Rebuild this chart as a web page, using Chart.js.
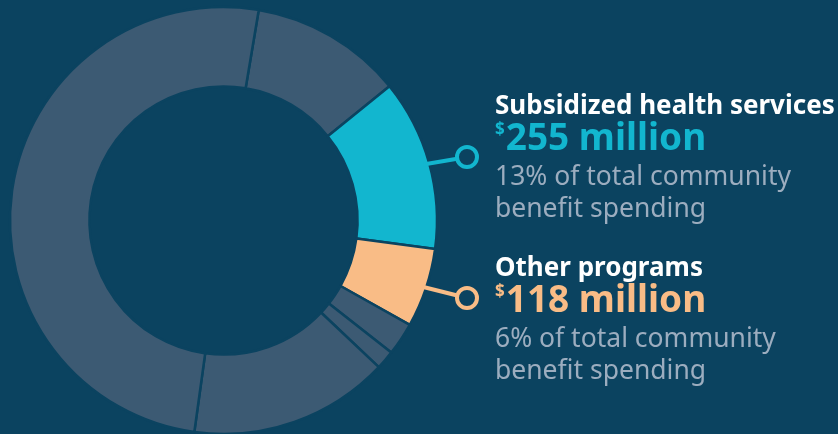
<!DOCTYPE html>
<html>
<head>
<meta charset="utf-8">
<script src="https://cdn.jsdelivr.net/npm/chart.js@4"></script>
<style>
    html, body { margin: 0; padding: 0; background: #0b4360; }
    #wrap { position: relative; width: 838px; height: 434px; overflow: hidden; font-family: "Noto Sans", sans-serif; }
    #spendChart { position: absolute; left: 0; top: 0; }
    .label { position: absolute; left: 495px; white-space: nowrap; }
    .title { color: #ffffff; font-weight: 700; font-size: 26px; line-height: 28px; }
    .amount { font-weight: 700; font-size: 37px; line-height: 36px; }
    .amount sup { font-size: 17px; vertical-align: 0; position: relative; top: -15px; margin-right: 1px; }
    .desc { color: #9cadbf; font-size: 26.5px; line-height: 32px; margin-top: -3px; }
</style>
</head>
<body>
<div id="wrap">
    <canvas id="spendChart" width="838" height="434"></canvas>
    <div class="label" id="lbl0" style="top:90px"></div>
    <div class="label" id="lbl1" style="top:252px"></div>
</div>
<script>
// Community benefit spending, $ millions (clockwise from the top)
const segments = ['Segment A', 'Subsidized health services', 'Other programs', 'Segment D', 'Segment E', 'Segment F', 'Segment G'];
const amounts = [227, 255, 118, 49, 28, 298, 993];
const segColors = ['#3c5a73', '#12b6cf', '#f9bc86', '#3c5a73', '#3c5a73', '#3c5a73', '#3c5a73'];

// Callouts
const calloutIndex = [1, 2];
const calloutTitles = ['Subsidized health services', 'Other programs'];
const calloutAmounts = ['255 million', '118 million'];
const calloutShares = ['13%', '6%'];
const calloutColors = ['#12b6cf', '#f9bc86'];

const BG = '#0b4360';

function fillLabels() {
    calloutTitles.forEach((title, i) => {
        document.getElementById('lbl' + i).innerHTML = `
            <div class="title">${title}</div>
            <div class="amount" style="color:${calloutColors[i]}"><sup>$</sup>${calloutAmounts[i]}</div>
            <div class="desc">${calloutShares[i]} of total community<br>benefit spending</div>
        `;
    });
}

// leader line + ring from the arc edge to the label
const leaderPlugin = {
    id: 'leaders',
    afterDatasetsDraw(chart) {
        const ctx = chart.ctx;
        const meta = chart.getDatasetMeta(0);
        const ringX = 467;
        const ringY = [157, 298];
        calloutIndex.forEach((idx, i) => {
            const arc = meta.data[idx];
            const mid = (arc.startAngle + arc.endAngle) / 2;
            const sx = arc.x + Math.cos(mid) * (arc.outerRadius - 6);
            const sy = arc.y + Math.sin(mid) * (arc.outerRadius - 6);
            const r = 10;
            const ang = Math.atan2(ringY[i] - sy, ringX - sx);
            ctx.save();
            ctx.strokeStyle = calloutColors[i];
            ctx.lineWidth = 4;
            ctx.beginPath();
            ctx.moveTo(sx, sy);
            ctx.lineTo(ringX - Math.cos(ang) * r, ringY[i] - Math.sin(ang) * r);
            ctx.stroke();
            ctx.beginPath();
            ctx.arc(ringX, ringY[i], r, 0, Math.PI * 2);
            ctx.fillStyle = BG;
            ctx.fill();
            ctx.stroke();
            ctx.restore();
        });
    }
};

fillLabels();

new Chart(document.getElementById('spendChart'), {
    type: 'doughnut',
    data: {
        labels: segments,
        datasets: [{
            data: amounts,
            backgroundColor: segColors,
            borderColor: BG,
            borderWidth: 2.5,
            hoverOffset: 0
        }]
    },
    options: {
        responsive: false,
        animation: false,
        rotation: 9.5,
        cutout: '62.8%',
        radius: 213.5,
        layout: { padding: { left: 0, right: 391, top: 7, bottom: 0 } },
        plugins: {
            legend: { display: false },
            tooltip: { enabled: false }
        }
    },
    plugins: [leaderPlugin]
});
</script>
</body>
</html>
